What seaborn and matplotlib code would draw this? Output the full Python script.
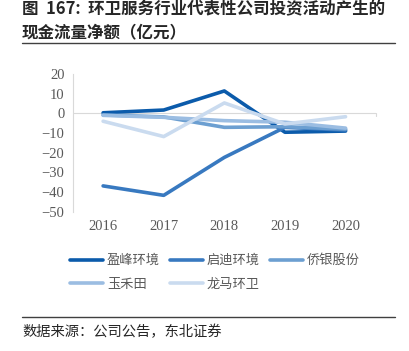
import matplotlib
matplotlib.use("Agg")
import matplotlib.pyplot as plt
import seaborn as sns
import pandas as pd

# data (亿元)
years = ["2016", "2017", "2018", "2019", "2020"]
yingfeng = [0.3, 1.7, 11.4, -9.6, -9.0]
qidi = [-36.9, -41.7, -22.4, -7.1, -8.5]
qiaoyin = [-0.8, -1.8, -7.1, -6.8, -8.0]
yuhetian = [-1.0, -2.0, -3.7, -4.5, -7.5]
longma = [-4.0, -11.8, 5.3, -5.4, -1.7]

names = ["盈峰环境", "启迪环境", "侨银股份", "玉禾田", "龙马环卫"]
colors = ["#0B5BAB", "#3879C0", "#6C9FD1", "#9BBDE2", "#CADBEF"]

df = pd.DataFrame({"年份": years * 5,
                   "值": yingfeng + qidi + qiaoyin + yuhetian + longma,
                   "公司": sum([[n] * 5 for n in names], [])})

sns.set_style("white")
plt.rcParams["font.family"] = ["Noto Sans CJK SC", "DejaVu Sans"]

fig = plt.figure(figsize=(4.09, 3.51), dpi=100)
ax = fig.add_axes([0.178, 0.397, 0.741, 0.392])

sns.lineplot(data=df, x="年份", y="值", hue="公司", hue_order=names,
             palette=colors, linewidth=2.6, sort=False, ax=ax, legend=True)

ax.set_xlim(-0.5, 4.5)
ax.set_ylim(-50, 20)
ax.set_yticks(range(-50, 21, 10))
ax.set_xlabel("")
ax.set_ylabel("")
for s in ["top", "right", "bottom"]:
    ax.spines[s].set_visible(False)
ax.spines["left"].set_color("#D9D9D9")
ax.spines["left"].set_linewidth(0.8)
ax.axhline(0, color="#D9D9D9", lw=0.8, zorder=0)
ax.plot([4.5, 4.5], [0, -1.5], color="#D9D9D9", lw=0.8, clip_on=False)
ax.tick_params(axis="both", length=0, labelsize=10.5, colors="#595959", pad=6)
for lab in ax.get_xticklabels() + ax.get_yticklabels():
    lab.set_family("Liberation Serif")

# legend row by row: 3 on top, 2 below
h, l = ax.get_legend_handles_labels()
ax.legend_.remove()
order = [0, 3, 1, 4, 2]
fig.legend([h[i] for i in order], [l[i] for i in order],
           loc="upper left", bbox_to_anchor=(0.171, 0.276), ncol=3,
           frameon=False, fontsize=9.5, handlelength=2.5, handletextpad=0.3,
           columnspacing=0.75, labelspacing=0.8, borderpad=0,
           borderaxespad=0, labelcolor="#595959")

# title and source
fig.text(0.054, 0.975, "图  167:  环卫服务行业代表性公司投资活动产生的",
         fontsize=11.9, fontweight="bold", va="center", ha="left")
fig.text(0.054, 0.907, "现金流量净额（亿元）",
         fontsize=11.9, fontweight="bold", va="center", ha="left")
fig.add_artist(plt.Line2D([0.054, 0.966], [0.878, 0.878], color="#404040", lw=1.0))
fig.add_artist(plt.Line2D([0.054, 0.966], [0.096, 0.096], color="#404040", lw=1.0))
fig.text(0.054, 0.054, "数据来源：公司公告，东北证券", fontsize=10.3,
         va="center", ha="left")

fig.savefig("out.png", dpi=100)
